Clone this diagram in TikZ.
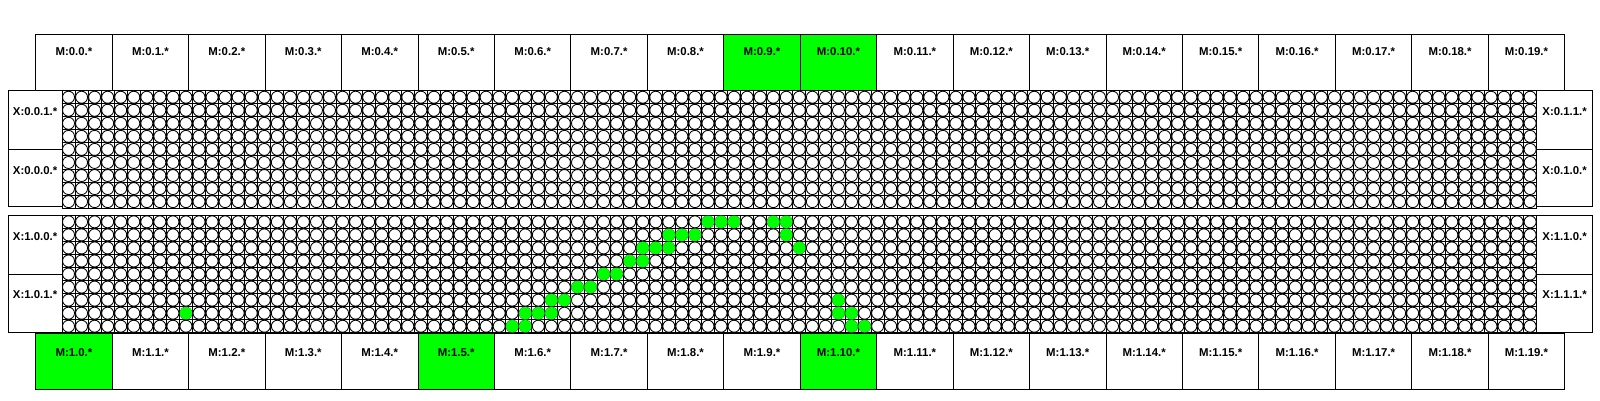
\documentclass[tikz,border=0pt]{standalone}
\usepackage{fontspec}
\setmainfont{Liberation Sans}
\definecolor{chipgreen}{RGB}{0,255,0}
\begin{document}
\begin{tikzpicture}[x=1pt,y=-1pt,
  mbox/.style={draw=black,line width=0.9pt,anchor=north west,inner sep=0pt,outer sep=0pt,minimum width=76.45pt,minimum height=56.7pt},
  xbox/.style={draw=black,line width=0.9pt,anchor=north west,inner sep=0pt,outer sep=0pt,minimum width=53.7pt,minimum height=58.7pt},
  lab/.style={inner sep=0pt,font=\fontsize{11.4}{13}\selectfont\bfseries},
  gline/.style={draw=black,line width=1.0pt},
  cellc/.style={draw=black,line width=0.85pt,fill=white},
  hot/.style={fill=chipgreen},
  blockframe/.style={draw=black,line width=1.0pt}]
\fill[white] (0,0) rectangle (1600,400);
\useasboundingbox (0,0) rectangle (1600,400);
% grid blocks
\foreach \b/\tp in {0/90.7,1/215.3}{
  \foreach \c in {0,...,113}{
    \draw[gline] ({62+\c*13.05},\tp) -- ({62+\c*13.05},{\tp+117.45});
  }
  \foreach \r in {0,...,9}{
    \draw[gline] (62,{\tp+\r*13.05}) -- (1536.65,{\tp+\r*13.05});
  }
  \foreach \r in {0,...,8}{
    \foreach \c in {0,...,112}{
      \draw[cellc] ({62+(\c+0.5)*13.05},{\tp+(\r+0.5)*13.05}) circle[radius=6.0pt];
    }
  }
  \draw[blockframe] (62,\tp) rectangle (1536.65,{\tp+117.45});
}
% active cells (lower block)
\foreach \r/\c in {0/49,0/50,0/51,0/54,0/55,
  1/46,1/47,1/48,1/55,
  2/44,2/45,2/46,2/56,
  3/43,3/44, 4/41,4/42, 5/39,5/40,
  6/37,6/38,6/59,
  7/9,7/35,7/36,7/37,7/59,7/60,
  8/34,8/35,8/60,8/61}{
  \fill[hot] ({62+(\c+0.5)*13.05},{215.3+(\r+0.5)*13.05}) circle[radius=6.3pt];
}
% M boxes
\foreach \i in {0,...,19}{
  \def\ft{white}
  \ifnum\i=9 \def\ft{chipgreen}\fi
  \ifnum\i=10 \def\ft{chipgreen}\fi
  \node[mbox,fill=\ft] (mt\i) at ({35.7+\i*76.45},34) {};
  \node[lab] (mtl\i) at ([yshift=-18pt]mt\i.north) {M:0.\i.*};
  \def\fb{white}
  \ifnum\i=0 \def\fb{chipgreen}\fi
  \ifnum\i=5 \def\fb{chipgreen}\fi
  \ifnum\i=10 \def\fb{chipgreen}\fi
  \node[mbox,fill=\fb] (mb\i) at ({35.7+\i*76.45},333) {};
  \node[lab] (mbl\i) at ([yshift=-20pt]mb\i.north) {M:1.\i.*};
}
% X boxes
\node[xbox] (x001) at (8.3,90.7) {};
\node[xbox,minimum height=57.45pt] (x000) at (8.3,149.4) {};
\node[xbox] (x100) at (8.3,215.3) {};
\node[xbox,minimum height=58.75pt] (x101) at (8.3,274) {};
\node[xbox,minimum width=56pt] (x011) at (1536.65,90.7) {};
\node[xbox,minimum width=56pt,minimum height=57.45pt] (x010) at (1536.65,149.4) {};
\node[xbox,minimum width=56pt] (x110) at (1536.65,215.3) {};
\node[xbox,minimum width=56pt,minimum height=58.75pt] (x111) at (1536.65,274) {};
\foreach \n/\t in {x001/X:0.0.1.*,x000/X:0.0.0.*,x100/X:1.0.0.*,x101/X:1.0.1.*,
  x011/X:0.1.1.*,x010/X:0.1.0.*,x110/X:1.1.0.*,x111/X:1.1.1.*}{
  \node[lab] (\n l) at ([yshift=-21pt]\n.north) {\t};
}
\end{tikzpicture}
\end{document}
